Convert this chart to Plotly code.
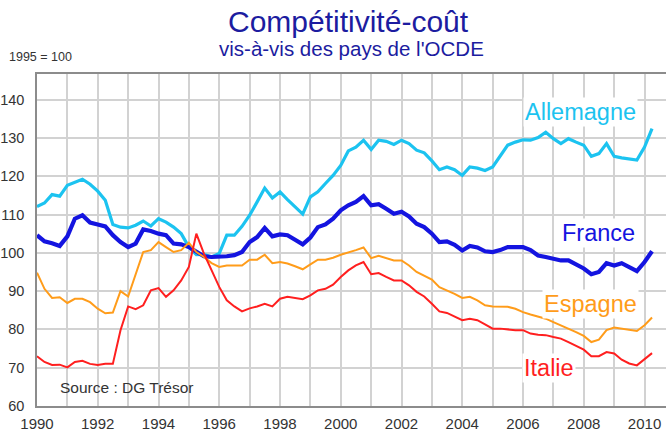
import pandas as pd
import plotly.graph_objects as go

# ---- data (quarterly, 1990Q1 .. 2010Q2), index 1995 = 100 ----
quarters = pd.date_range("1990-01-01", periods=82, freq="QS")

allemagne = [112.1, 113.0, 115.2, 114.8, 117.6, 118.5, 119.2, 117.9, 116.1, 113.7,
             107.4, 106.7, 106.5, 107.2, 108.3, 107.0, 108.9, 108.0, 106.7, 105.0,
             101.5, 99.5, 99.6, 98.9, 99.8, 104.6, 104.6, 106.9, 109.8, 113.3,
             116.9, 114.3, 115.9, 113.9, 112.0, 110.1, 114.6, 115.9, 118.1, 120.2,
             122.8, 126.6, 127.6, 129.4, 127.0, 129.4, 129.1, 128.3, 129.4, 128.5,
             126.8, 126.1, 124.0, 121.7, 122.4, 121.7, 120.2, 122.4, 122.1, 121.5,
             122.4, 125.2, 128.1, 128.9, 129.5, 129.4, 130.1, 131.5, 129.8, 128.5,
             129.8, 128.9, 128.1, 125.2, 125.9, 128.5, 125.2, 124.8, 124.6, 124.2,
             127.6, 132.4]

france = [104.6, 103.0, 102.5, 101.8, 104.3, 108.9, 109.8, 107.9, 107.4, 106.9,
          104.6, 102.8, 101.5, 102.4, 106.1, 105.7, 105.0, 104.6, 102.4, 102.2,
          101.5, 100.2, 99.1, 98.9, 98.9, 99.1, 99.4, 100.2, 102.8, 104.1,
          106.5, 104.3, 104.8, 104.6, 103.4, 102.2, 104.0, 106.7, 107.4, 108.9,
          111.1, 112.4, 113.3, 114.8, 112.4, 112.7, 111.5, 110.2, 110.7, 109.5,
          107.6, 106.7, 105.0, 102.8, 103.0, 102.1, 100.6, 101.8, 101.4, 100.4,
          100.2, 100.7, 101.5, 101.5, 101.5, 100.7, 99.3, 98.9, 98.5, 98.0,
          98.0, 96.9, 95.9, 94.4, 95.0, 97.3, 96.7, 97.3, 96.3, 95.2,
          97.6, 100.4]

espagne = [94.8, 90.6, 88.2, 88.4, 86.9, 88.0, 88.0, 87.1, 85.4, 84.2,
           84.4, 90.0, 88.6, 94.1, 100.2, 100.7, 102.8, 101.5, 100.2, 100.7,
           102.6, 100.2, 98.9, 97.3, 96.3, 96.7, 96.7, 96.7, 98.2, 98.2,
           99.5, 97.3, 97.6, 97.2, 96.5, 95.7, 97.0, 98.2, 98.2, 98.7,
           99.5, 100.0, 100.7, 101.4, 98.6, 99.2, 98.6, 98.0, 98.0, 96.7,
           95.0, 94.1, 93.0, 91.0, 90.2, 89.3, 88.2, 88.5, 87.6, 86.3,
           86.0, 86.0, 85.9, 85.4, 84.5, 83.9, 83.4, 82.8, 81.9, 81.1,
           80.2, 79.3, 78.3, 76.7, 77.3, 79.8, 80.5, 80.2, 80.0, 79.6,
           81.1, 83.1]

italie = [73.0, 71.5, 70.7, 70.8, 70.1, 71.5, 71.8, 71.0, 70.7, 71.0,
          71.0, 79.8, 86.0, 85.3, 86.3, 90.2, 90.8, 88.5, 90.2, 92.8,
          96.3, 105.0, 99.8, 95.4, 91.1, 87.6, 86.0, 84.7, 85.5, 86.0,
          86.7, 86.0, 88.0, 88.5, 88.3, 87.9, 88.9, 90.2, 90.6, 91.7,
          93.7, 95.4, 96.7, 97.6, 94.4, 94.7, 93.7, 92.8, 92.8, 91.5,
          89.8, 88.6, 86.7, 84.7, 84.3, 83.4, 82.4, 82.8, 82.4, 81.3,
          80.2, 80.2, 80.0, 79.8, 79.8, 78.9, 78.6, 78.5, 78.0, 77.6,
          76.7, 75.8, 74.7, 73.0, 73.0, 74.1, 73.7, 72.1, 71.1, 70.6,
          72.1, 73.8]

series_names = ["Allemagne", "France", "Espagne", "Italie"]
year_ticks = list(range(1990, 2011))
year_labels = [str(y) if y % 2 == 0 else "" for y in year_ticks]
y_ticks = [60, 70, 80, 90, 100, 110, 120, 130, 140]

# ---- style ----
FONT = "Arial, 'Liberation Sans', sans-serif"
colors = {"Allemagne": "#1CC3F0", "France": "#1414E0",
          "Espagne": "#FF9C1A", "Italie": "#FF1F1F"}
widths = {"Allemagne": 3.2, "France": 4.2, "Espagne": 2.0, "Italie": 2.0}
values = {"Allemagne": allemagne, "France": france,
          "Espagne": espagne, "Italie": italie}

W, H = 666, 432
L, R, T, B = 37, 666, 74, 406


def px(x, y):
    return (x - L) / (R - L), (B - y) / (B - T)


fig = go.Figure()
for name in series_names:
    fig.add_trace(go.Scatter(x=quarters, y=values[name], mode="lines", name=name,
                             line=dict(color=colors[name], width=widths[name]),
                             showlegend=False, hoverinfo="x+y+name"))

annotations = []


def add_text(text, x, y, size, color, xanchor="center", bg=None):
    ax, ay = px(x, y)
    d = dict(text=text, x=ax, y=ay, xref="paper", yref="paper",
             xanchor=xanchor, yanchor="middle", showarrow=False,
             font=dict(family=FONT, size=size, color=color))
    if bg:
        d.update(bgcolor=bg, borderpad=1)
    annotations.append(d)


add_text("Compétitivité-coût", 348, 21, 30, "#1C1CA0")
add_text("vis-à-vis des pays de l'OCDE", 351, 49, 20.5, "#1C1CA0")
add_text("1995 = 100", 7, 57, 12.5, "#333333", xanchor="left")
add_text("Source : DG Trésor", 58, 387, 15.5, "#333333", xanchor="left")

label_pos = {"Allemagne": (580, 112), "France": (598, 233),
             "Espagne": (590, 304), "Italie": (549, 368)}
for name in series_names:
    x, y = label_pos[name]
    add_text(name, x, y, 23.5, colors[name], bg="white")

fig.update_layout(
    width=W, height=H,
    margin=dict(l=L, r=W - R, t=T, b=H - B, pad=0, autoexpand=False),
    paper_bgcolor="white", plot_bgcolor="white",
    font=dict(family=FONT, size=15, color="#333333"),
    annotations=annotations,
)

fig.update_xaxes(
    type="date", automargin=False,
    range=["1990-01-01", "2010-09-16"],
    tickvals=[f"{y}-01-01" for y in year_ticks], ticktext=year_labels,
    showgrid=True, gridcolor="#D2D2D2", gridwidth=1.5,
    showline=True, linecolor="#8C8C8C", linewidth=1.5, mirror=True,
    ticks="", ticklabelstandoff=3,
    tickfont=dict(family=FONT, size=15, color="#333333"),
    zeroline=False,
)
fig.update_yaxes(
    automargin=False,
    range=[60, 60 + (B - T) / 3.83],
    tickvals=y_ticks,
    showgrid=True, gridcolor="#D2D2D2", gridwidth=1.5,
    showline=True, linecolor="#8C8C8C", linewidth=1.5, mirror=True,
    ticks="", ticklabelstandoff=8,
    tickfont=dict(family=FONT, size=14.5, color="#333333"),
    zeroline=False,
)

fig.write_html("out.html",
               config={"displayModeBar": False},
               post_script="document.body.style.margin='0';document.body.style.overflow='hidden';")
